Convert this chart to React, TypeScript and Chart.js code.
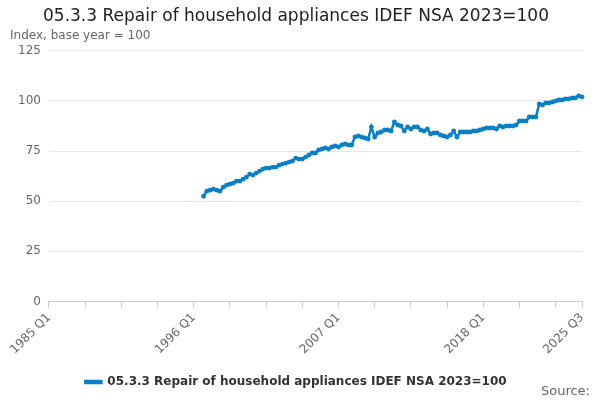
import React, { useEffect, useRef } from "react";
import { Chart, registerables } from "chart.js";
Chart.register(...registerables);

const startYear = 1985;
const endLabel = "2025 Q3";
const firstDataLabel = "1996 Q4";
const values: number[] = [
  52.5,
  55, 55.5, 56, 55.5,
  55, 57, 58, 58.5,
  59, 60, 60, 61,
  62, 63.5, 63, 64,
  65, 66, 66.5, 66.5,
  67, 67, 68, 68.5,
  69, 69.5, 70, 71.5,
  71, 71, 72, 73,
  74, 74, 75.5, 76,
  76.5, 76, 77, 77.5,
  77, 78, 78.5, 78,
  78, 82, 82.5, 82,
  81.5, 81, 87, 82,
  84, 84.5, 85.5, 85.5,
  85, 89.5, 88, 87.5,
  85, 87, 86, 87,
  87, 85.5, 85, 86,
  83.5, 84, 84, 83,
  82.5, 82, 83, 85,
  82, 84.5, 84.5, 84.5,
  84.5, 85, 85, 85.5,
  86, 86.5, 86.5, 86.5,
  86, 87.5, 87, 87.5,
  87.5, 87.5, 88, 90,
  90, 90, 92, 92,
  92, 98.5, 98, 99,
  99, 99.5, 100, 100.5,
  100.5, 101, 101, 101.5,
  101.5, 102.5, 102,
];
const yTicks = [0, 25, 50, 75, 100, 125];

const labels: string[] = [];
for (let y = startYear; ; y++) {
  let done = false;
  for (let q = 1; q <= 4; q++) {
    const l = `${y} Q${q}`;
    labels.push(l);
    if (l === endLabel) { done = true; break; }
  }
  if (done) break;
}
const startIdx = labels.indexOf(firstDataLabel);
const series = labels.map((_, i) => (i >= startIdx && i - startIdx < values.length ? values[i - startIdx] : null));

const FONT = "'DejaVu Sans', sans-serif";

export default function App() {
  const ref = useRef<HTMLCanvasElement>(null);
  useEffect(() => {
    const last = labels.length - 1;
    const sourcePlugin = {
      id: "src",
      afterDraw(c: any) {
        const ctx = c.ctx;
        ctx.save();
        ctx.font = `13px ${FONT}`;
        ctx.fillStyle = "#666";
        ctx.textAlign = "right";
        ctx.textBaseline = "alphabetic";
        ctx.fillText("Source:", 590, 395);
        ctx.restore();
      },
    };
    const chart = new Chart(ref.current!, {
      type: "line",
      data: {
        labels,
        datasets: [{
          label: "05.3.3 Repair of household appliances IDEF NSA 2023=100",
          data: series,
          borderColor: "#0a7fc4",
          backgroundColor: "#0a7fc4",
          borderWidth: 2.5,
          pointRadius: 1.2,
          pointHoverRadius: 2,
          spanGaps: false,
        }],
      },
      plugins: [sourcePlugin],
      options: {
        animation: false,
        responsive: false,
        layout: { padding: { left: 10, right: 18, bottom: 2 } },
        plugins: {
          title: { display: true, text: "05.3.3 Repair of household appliances IDEF NSA 2023=100", font: { family: FONT, size: 17, weight: "500" }, color: "#222", padding: { top: 6, bottom: 2 } },
          subtitle: { display: true, text: "Index, base year = 100", align: "start", font: { family: FONT, size: 12 }, color: "#666", padding: { bottom: 8 } },
          legend: { position: "bottom", labels: { usePointStyle: false, boxWidth: 16, boxHeight: 2, font: { family: FONT, size: 12, weight: "bold" }, color: "#333", padding: 16 } },
          tooltip: { enabled: false },
        },
        scales: {
          x: {
            grid: { display: true, drawOnChartArea: false, drawTicks: true, tickLength: 6, tickColor: "#ccc" },
            border: { color: "#ccc" },
            ticks: {
              autoSkip: false, maxRotation: 45, minRotation: 45,
              font: { family: FONT, size: 12 }, color: "#666",
              callback: (_v: any, i: number) => (i % 44 === 0 || i === last ? labels[i] : (i % 11 === 0 ? "" : null)),
            },
          },
          y: {
            min: 0, max: 125,
            afterBuildTicks: (ax: any) => { ax.ticks = yTicks.map((v) => ({ value: v })); },
            grid: { color: "#e6e6e6", drawTicks: false },
            border: { display: false },
            ticks: { font: { family: FONT, size: 12 }, color: "#666", padding: 8 },
          },
        },
      } as any,
    });
    return () => chart.destroy();
  }, []);
  return (
    <div style={{ position: "absolute", left: 0, top: 0, width: 600, height: 400 }}>
      <canvas ref={ref} width={600} height={400} />
    </div>
  );
}
